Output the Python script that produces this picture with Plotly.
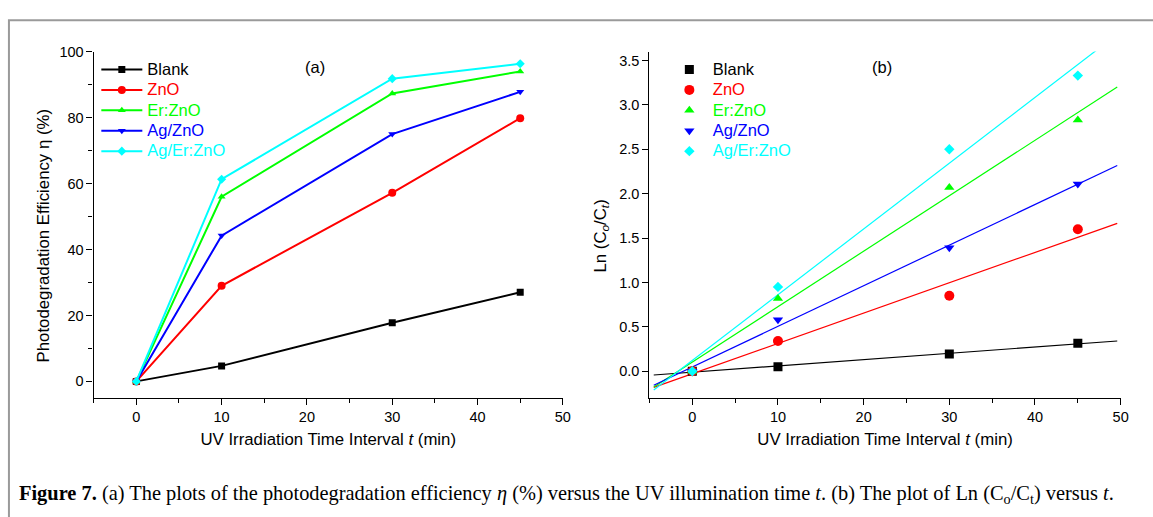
import numpy as np
import plotly.graph_objects as go

W, H = 1153, 517

# ---------------- data ----------------
time_min = [0, 10, 30, 45]
series_names = ["Blank", "ZnO", "Er:ZnO", "Ag/ZnO", "Ag/Er:ZnO"]
series_colors = ["#000000", "#ff0000", "#00ff00", "#0000ff", "#00ffff"]
series_symbols = ["square", "circle", "triangle-up", "triangle-down", "diamond"]
sizes_a = [7, 8, 7, 7, 7]
sizes_b = [9, 10, 9, 9, 8]

# (a) photodegradation efficiency eta (%)
eta_blank = [0, 4.7, 17.8, 27.0]
eta_zno = [0, 29.0, 57.2, 79.8]
eta_er_zno = [0, 56.0, 87.3, 94.0]
eta_ag_zno = [0, 44.2, 75.0, 87.8]
eta_ag_er_zno = [0, 61.3, 91.8, 96.3]

# (b) Ln(Co/Ct)
ln_blank = [0, 0.05, 0.195, 0.315]
ln_zno = [0, 0.34, 0.85, 1.60]
ln_er_zno = [0, 0.82, 2.07, 2.83]
ln_ag_zno = [0, 0.58, 1.39, 2.11]
ln_ag_er_zno = [0, 0.95, 2.50, 3.33]

fit_range = [-4.5, 49.6]

eta_all = [eta_blank, eta_zno, eta_er_zno, eta_ag_zno, eta_ag_er_zno]
ln_all = [ln_blank, ln_zno, ln_er_zno, ln_ag_zno, ln_ag_er_zno]

FONT = "Liberation Sans, Arial, sans-serif"
LEG_FS = 16.5
LEG_ROW_FS = 13.4   # controls legend row spacing
TICK_FS = 14.5
TITLE_FS = 16.8


def px_x(p):
    return p / W


def px_y(p):
    return 1 - p / H


def leg_name(name, col):
    return f"<span style='color:{col};font-size:{LEG_FS}px'>{name}</span>"


fig = go.Figure()

# panel (a): lines + markers
for name, col, sym, sz, ys in zip(series_names, series_colors, series_symbols, sizes_a, eta_all):
    fig.add_trace(go.Scatter(
        x=time_min, y=ys, mode="lines+markers", name=leg_name(name, col),
        line=dict(color=col, width=2), marker=dict(symbol=sym, size=sz, color=col),
        xaxis="x", yaxis="y", legend="legend"))

# panel (b): linear fits + markers
fit_x = np.array(fit_range)
for name, col, ys in zip(series_names, series_colors, ln_all):
    k, b = np.polyfit(time_min, ys, 1)
    fig.add_trace(go.Scatter(
        x=fit_x, y=k * fit_x + b, mode="lines", line=dict(color=col, width=1.2),
        showlegend=False, hoverinfo="skip", xaxis="x2", yaxis="y2"))
for name, col, sym, sz, ys in zip(series_names, series_colors, series_symbols, sizes_b, ln_all):
    fig.add_trace(go.Scatter(
        x=time_min, y=ys, mode="markers", name=leg_name(name, col),
        marker=dict(symbol=sym, size=sz, color=col),
        xaxis="x2", yaxis="y2", legend="legend2"))

a_dom_x = [px_x(94.3), px_x(566.8)]
b_dom_x = [px_x(654), px_x(1128.5)]
dom_y = [px_y(396), px_y(44.3)]

axis_common = dict(
    showline=True, linecolor="black", linewidth=1.3, showgrid=False, zeroline=False,
    ticks="outside", ticklen=6, tickwidth=1.3, tickcolor="black",
    tickfont=dict(family=FONT, size=TICK_FS, color="black"))
mirror_common = dict(
    showline=True, linecolor="black", linewidth=1.3, showgrid=False, zeroline=False,
    ticks="inside", ticklen=3, tickwidth=1, tickcolor="black", showticklabels=False)
minor_x = dict(ticks="outside", ticklen=4, tickwidth=1.3, tickcolor="black", dtick=5, tick0=0)
xtitle = "UV Irradiation Time Interval <i>t</i> (min)"

fig.update_layout(
    width=W, height=H, autosize=False,
    margin=dict(l=0, r=0, t=0, b=0),
    paper_bgcolor="white", plot_bgcolor="white",
    font=dict(family=FONT, color="black"),
    xaxis=dict(domain=a_dom_x, anchor="y", range=[-5, 50], tick0=0, dtick=10, minor=minor_x,
               title=dict(text=xtitle, font=dict(size=TITLE_FS), standoff=8), **axis_common),
    yaxis=dict(domain=dom_y, anchor="x", range=[-5, 100], tick0=0, dtick=20,
               minor=dict(ticks="outside", ticklen=4, tickwidth=1.3, tickcolor="black", dtick=10, tick0=0),
               **axis_common),
    xaxis2=dict(domain=b_dom_x, anchor="y2", range=[-5, 50], tick0=0, dtick=10, minor=minor_x,
                title=dict(text=xtitle, font=dict(size=TITLE_FS), standoff=8), **axis_common),
    yaxis2=dict(domain=dom_y, anchor="x2", range=[-0.3, 3.6], tick0=0, dtick=0.5, tickformat=".1f",
                **axis_common),
    # mirrored top / right axes with inward ticks
    xaxis3=dict(overlaying="x", anchor="y", side="top", range=[-5, 50], tick0=0, dtick=5, **mirror_common),
    yaxis3=dict(overlaying="y", anchor="x", side="right", range=[-5, 100], tick0=0, dtick=10, **mirror_common),
    xaxis4=dict(overlaying="x2", anchor="y2", side="top", range=[-5, 50], tick0=0, dtick=5, **mirror_common),
    yaxis4=dict(overlaying="y2", anchor="x2", side="right", range=[-0.3, 3.6], tick0=0, dtick=0.5, **mirror_common),
    legend=dict(x=px_x(97), y=px_y(47), xanchor="left", yanchor="top", itemwidth=41,
                bgcolor="rgba(0,0,0,0)", font=dict(family=FONT, size=LEG_ROW_FS, color="black"),
                tracegroupgap=0, itemclick=False),
    legend2=dict(x=px_x(670.5), y=px_y(47), xanchor="left", yanchor="top", itemwidth=37,
                 bgcolor="rgba(0,0,0,0)", font=dict(family=FONT, size=LEG_ROW_FS, color="black"),
                 tracegroupgap=0, itemclick=False),
    showlegend=True,
)

# y-axis titles (placed as in the reference, slightly below the plot centre)
fig.add_annotation(text="Photodegradation Efficiency η (%)", textangle=-90,
                   x=px_x(43.3), y=px_y(231), xref="paper", yref="paper",
                   xanchor="center", yanchor="middle", showarrow=False,
                   font=dict(family=FONT, size=TITLE_FS, color="black"))
fig.add_annotation(text="Ln (C<sub><i>o</i></sub>/C<sub><i>t</i></sub>)", textangle=-90,
                   x=px_x(605.3), y=px_y(232), xref="paper", yref="paper",
                   xanchor="center", yanchor="middle", showarrow=False,
                   font=dict(family=FONT, size=TITLE_FS, color="black"))

# panel labels
fig.add_annotation(text="(a)", x=px_x(316.7), y=px_y(60), xref="paper", yref="paper",
                   xanchor="center", yanchor="middle", showarrow=False,
                   font=dict(family=FONT, size=LEG_FS, color="black"))
fig.add_annotation(text="(b)", x=px_x(888), y=px_y(60), xref="paper", yref="paper",
                   xanchor="center", yanchor="middle", showarrow=False,
                   font=dict(family=FONT, size=LEG_FS, color="black"))

# caption
fig.add_annotation(
    text=("<b>Figure 7.</b> (a) The plots of the photodegradation efficiency <i>η</i> (%) versus the UV "
          "illumination time <i>t</i>. (b) The plot of Ln (C<sub>o</sub>/C<sub>t</sub>) versus <i>t</i>."),
    x=px_x(17), y=px_y(494), xref="paper", yref="paper", xanchor="left", yanchor="middle",
    showarrow=False, font=dict(family="Liberation Serif, Times New Roman, serif", size=20.4, color="black"))

# outer frame
fig.add_shape(type="rect", xref="paper", yref="paper",
              x0=px_x(9), x1=px_x(1170), y0=px_y(540), y1=px_y(12.5),
              line=dict(color="#9a9a9a", width=2), layer="above")

fig.write_html("out.html", config={"displayModeBar": False},
               post_script="document.body.style.margin='0';")
